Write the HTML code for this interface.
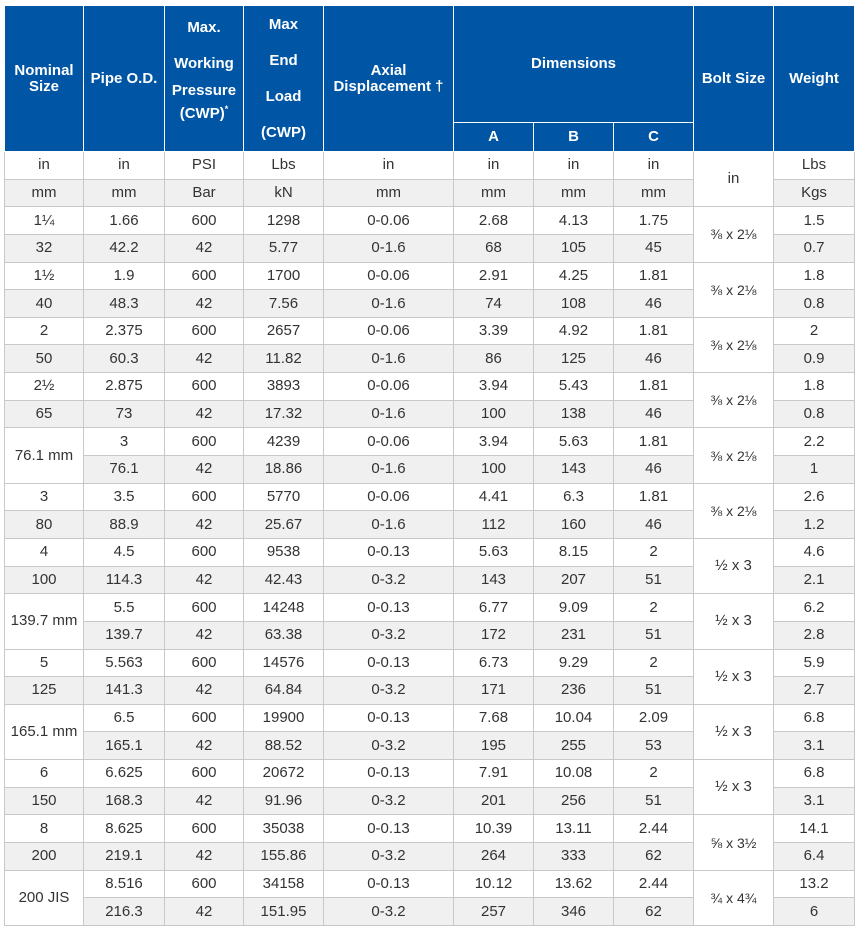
<!DOCTYPE html>
<html><head><meta charset="utf-8"><style>
body{margin:0;background:#fff;width:862px;height:936px;overflow:hidden}
table{position:absolute;left:4px;top:5px;border-collapse:collapse;table-layout:fixed;font-family:"Liberation Sans",Arial,sans-serif;font-size:15px;color:#333}
td,th{border:1px solid #c8c8c8;text-align:center;padding:0;height:26.65px;line-height:16px}
th{background:#0055a4;color:#fff;font-weight:bold;border-color:#fff;border-left:1px solid #fff}
tr.g td{background:#f0f0f0}
td.w{background:#fff!important}
.mw div{height:18px;line-height:18px}
</style></head><body>
<table>
<colgroup><col style="width:79px"><col style="width:81px"><col style="width:79px"><col style="width:80px"><col style="width:130px"><col style="width:80px"><col style="width:80px"><col style="width:80px"><col style="width:80px"><col style="width:81px"></colgroup>
<tr><th rowspan="2" style="height:145px">Nominal<br>Size</th><th rowspan="2">Pipe O.D.</th><th rowspan="2" class="mw" style="vertical-align:top"><div style="margin-top:13px">Max.</div><div style="margin-top:18px">Working</div><div style="margin-top:9px">Pressure</div><div>(CWP)<sup style="font-size:9px">*</sup></div></th><th rowspan="2" style="line-height:36px">Max<br>End<br>Load<br>(CWP)</th><th rowspan="2">Axial<br>Displacement †</th><th colspan="3" style="height:116px">Dimensions</th><th rowspan="2">Bolt Size</th><th rowspan="2">Weight</th></tr>
<tr><th style="height:28px">A</th><th>B</th><th>C</th></tr>
<tr><td>in</td><td>in</td><td>PSI</td><td>Lbs</td><td>in</td><td>in</td><td>in</td><td>in</td><td rowspan="2" class="w">in</td><td>Lbs</td></tr>
<tr class="g"><td>mm</td><td>mm</td><td>Bar</td><td>kN</td><td>mm</td><td>mm</td><td>mm</td><td>mm</td><td>Kgs</td></tr>

<tr><td>1¼</td><td>1.66</td><td>600</td><td>1298</td><td>0-0.06</td><td>2.68</td><td>4.13</td><td>1.75</td><td rowspan="2" class="w" style="font-size:14px">⅜ x 2⅛</td><td>1.5</td></tr>
<tr class="g"><td>32</td><td>42.2</td><td>42</td><td>5.77</td><td>0-1.6</td><td>68</td><td>105</td><td>45</td><td>0.7</td></tr>
<tr><td>1½</td><td>1.9</td><td>600</td><td>1700</td><td>0-0.06</td><td>2.91</td><td>4.25</td><td>1.81</td><td rowspan="2" class="w" style="font-size:14px">⅜ x 2⅛</td><td>1.8</td></tr>
<tr class="g"><td>40</td><td>48.3</td><td>42</td><td>7.56</td><td>0-1.6</td><td>74</td><td>108</td><td>46</td><td>0.8</td></tr>
<tr><td>2</td><td>2.375</td><td>600</td><td>2657</td><td>0-0.06</td><td>3.39</td><td>4.92</td><td>1.81</td><td rowspan="2" class="w" style="font-size:14px">⅜ x 2⅛</td><td>2</td></tr>
<tr class="g"><td>50</td><td>60.3</td><td>42</td><td>11.82</td><td>0-1.6</td><td>86</td><td>125</td><td>46</td><td>0.9</td></tr>
<tr><td>2½</td><td>2.875</td><td>600</td><td>3893</td><td>0-0.06</td><td>3.94</td><td>5.43</td><td>1.81</td><td rowspan="2" class="w" style="font-size:14px">⅜ x 2⅛</td><td>1.8</td></tr>
<tr class="g"><td>65</td><td>73</td><td>42</td><td>17.32</td><td>0-1.6</td><td>100</td><td>138</td><td>46</td><td>0.8</td></tr>
<tr><td rowspan="2" class="w">76.1 mm</td><td>3</td><td>600</td><td>4239</td><td>0-0.06</td><td>3.94</td><td>5.63</td><td>1.81</td><td rowspan="2" class="w" style="font-size:14px">⅜ x 2⅛</td><td>2.2</td></tr>
<tr class="g"><td>76.1</td><td>42</td><td>18.86</td><td>0-1.6</td><td>100</td><td>143</td><td>46</td><td>1</td></tr>
<tr><td>3</td><td>3.5</td><td>600</td><td>5770</td><td>0-0.06</td><td>4.41</td><td>6.3</td><td>1.81</td><td rowspan="2" class="w" style="font-size:14px">⅜ x 2⅛</td><td>2.6</td></tr>
<tr class="g"><td>80</td><td>88.9</td><td>42</td><td>25.67</td><td>0-1.6</td><td>112</td><td>160</td><td>46</td><td>1.2</td></tr>
<tr><td>4</td><td>4.5</td><td>600</td><td>9538</td><td>0-0.13</td><td>5.63</td><td>8.15</td><td>2</td><td rowspan="2" class="w">½ x 3</td><td>4.6</td></tr>
<tr class="g"><td>100</td><td>114.3</td><td>42</td><td>42.43</td><td>0-3.2</td><td>143</td><td>207</td><td>51</td><td>2.1</td></tr>
<tr><td rowspan="2" class="w">139.7 mm</td><td>5.5</td><td>600</td><td>14248</td><td>0-0.13</td><td>6.77</td><td>9.09</td><td>2</td><td rowspan="2" class="w">½ x 3</td><td>6.2</td></tr>
<tr class="g"><td>139.7</td><td>42</td><td>63.38</td><td>0-3.2</td><td>172</td><td>231</td><td>51</td><td>2.8</td></tr>
<tr><td>5</td><td>5.563</td><td>600</td><td>14576</td><td>0-0.13</td><td>6.73</td><td>9.29</td><td>2</td><td rowspan="2" class="w">½ x 3</td><td>5.9</td></tr>
<tr class="g"><td>125</td><td>141.3</td><td>42</td><td>64.84</td><td>0-3.2</td><td>171</td><td>236</td><td>51</td><td>2.7</td></tr>
<tr><td rowspan="2" class="w">165.1 mm</td><td>6.5</td><td>600</td><td>19900</td><td>0-0.13</td><td>7.68</td><td>10.04</td><td>2.09</td><td rowspan="2" class="w">½ x 3</td><td>6.8</td></tr>
<tr class="g"><td>165.1</td><td>42</td><td>88.52</td><td>0-3.2</td><td>195</td><td>255</td><td>53</td><td>3.1</td></tr>
<tr><td>6</td><td>6.625</td><td>600</td><td>20672</td><td>0-0.13</td><td>7.91</td><td>10.08</td><td>2</td><td rowspan="2" class="w">½ x 3</td><td>6.8</td></tr>
<tr class="g"><td>150</td><td>168.3</td><td>42</td><td>91.96</td><td>0-3.2</td><td>201</td><td>256</td><td>51</td><td>3.1</td></tr>
<tr><td>8</td><td>8.625</td><td>600</td><td>35038</td><td>0-0.13</td><td>10.39</td><td>13.11</td><td>2.44</td><td rowspan="2" class="w" style="font-size:14px">⅝ x 3½</td><td>14.1</td></tr>
<tr class="g"><td>200</td><td>219.1</td><td>42</td><td>155.86</td><td>0-3.2</td><td>264</td><td>333</td><td>62</td><td>6.4</td></tr>
<tr><td rowspan="2" class="w">200 JIS</td><td>8.516</td><td>600</td><td>34158</td><td>0-0.13</td><td>10.12</td><td>13.62</td><td>2.44</td><td rowspan="2" class="w" style="font-size:14px">¾ x 4¾</td><td>13.2</td></tr>
<tr class="g"><td>216.3</td><td>42</td><td>151.95</td><td>0-3.2</td><td>257</td><td>346</td><td>62</td><td>6</td></tr>
</table>
</body></html>
